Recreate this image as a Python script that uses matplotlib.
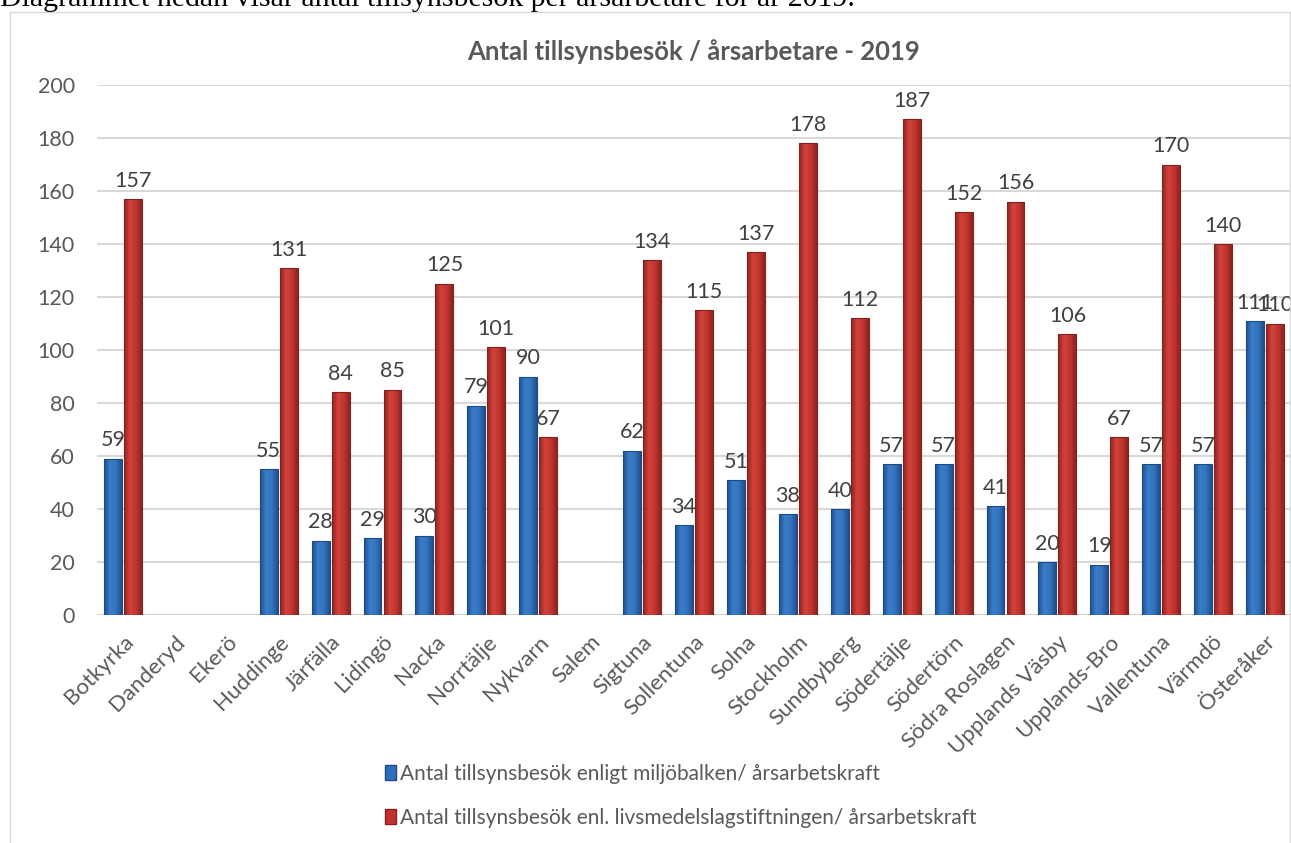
import numpy as np
import matplotlib.pyplot as plt
from matplotlib.patches import Patch, Rectangle
from matplotlib.colors import LinearSegmentedColormap

plt.rcParams['font.family'] = ['Lato', 'DejaVu Sans']

kommuner = ['Botkyrka', 'Danderyd', 'Ekerö', 'Huddinge', 'Järfälla', 'Lidingö',
            'Nacka', 'Norrtälje', 'Nykvarn', 'Salem', 'Sigtuna', 'Sollentuna',
            'Solna', 'Stockholm', 'Sundbyberg', 'Södertälje', 'Södertörn',
            'Södra Roslagen', 'Upplands Väsby', 'Upplands-Bro', 'Vallentuna',
            'Värmdö', 'Österåker']
miljo = [59, None, None, 55, 28, 29, 30, 79, 90, None, 62, 34, 51, 38, 40,
         57, 57, 41, 20, 19, 57, 57, 111]
livs = [157, None, None, 131, 84, 85, 125, 101, 67, None, 134, 115, 137, 178,
        112, 187, 152, 156, 106, 67, 170, 140, 110]
yticks = [0, 20, 40, 60, 80, 100, 120, 140, 160, 180, 200]

lbl_miljo = 'Antal tillsynsbesök enligt miljöbalken/ årsarbetskraft'
lbl_livs = 'Antal tillsynsbesök enl. livsmedelslagstiftningen/ årsarbetskraft'

W, H = 1291, 843
fig = plt.figure(figsize=(W / 100, H / 100), dpi=100)
ax = fig.add_axes([97 / W, 1 - 615 / H, 1194 / W, 530 / H])

grey = '#595959'
blue, blue_e = '#2F6EBA', '#1C4A85'
red, red_e = '#C0312E', '#86201D'
cm_blue = LinearSegmentedColormap.from_list('b', ['#1E4F8E', '#3A7DC9', '#3473BE', '#1F4F8C'])
cm_red = LinearSegmentedColormap.from_list('r', ['#8E2522', '#D2433C', '#C23530', '#8A2421'])
grad = np.linspace(0, 1, 64).reshape(1, -1)


def shaded_bar(xc, h, width, cmap, edge):
    bar = ax.bar(xc, h, width, color='none', edgecolor=edge, lw=0.8, zorder=4)[0]
    im = ax.imshow(grad, cmap=cmap, aspect='auto', zorder=3,
                   extent=[xc - width / 2, xc + width / 2, 0, h])
    im.set_clip_path(bar)


x = np.arange(len(kommuner))
bw = 0.345
gap = 0.02

for i in x:
    if miljo[i] is not None:
        xb = i - bw / 2 - gap
        shaded_bar(xb, miljo[i], bw, cm_blue, blue_e)
        ax.annotate(str(miljo[i]), (xb, miljo[i]), xytext=(0, 6),
                    textcoords='offset points', ha='center', va='bottom',
                    fontsize=15.5, color='#404040')
    if livs[i] is not None:
        xr = i + bw / 2 + gap
        shaded_bar(xr, livs[i], bw, cm_red, red_e)
        ax.annotate(str(livs[i]), (xr, livs[i]), xytext=(0, 6),
                    textcoords='offset points', ha='center', va='bottom',
                    fontsize=15.5, color='#404040')

ax.set_xlim(-0.5, len(kommuner) - 0.5)
ax.set_ylim(0, 200)
ax.set_yticks(yticks)
ax.yaxis.grid(True, color='#D9D9D9', lw=1.5, zorder=0)
ax.set_axisbelow(True)
for s in ax.spines.values():
    s.set_visible(False)
ax.axhline(0, color='#D0D0D0', lw=2, zorder=2)

ax.set_xticks(x)
ax.set_xticklabels(kommuner, rotation=45, ha='right', rotation_mode='anchor',
                   fontsize=16, color=grey)
ax.tick_params(axis='x', length=0, pad=12)
ax.tick_params(axis='y', length=0, pad=16, labelsize=15.5, labelcolor=grey)

ax.set_title('Antal tillsynsbesök / årsarbetare - 2019', fontsize=18.5,
             fontweight='bold', color=grey, pad=18)

handles = [Patch(facecolor=blue, edgecolor=blue_e, label=lbl_miljo),
           Patch(facecolor=red, edgecolor=red_e, label=lbl_livs)]
fig.legend(handles=handles, loc='upper left', bbox_to_anchor=(366 / W, 1 - 745 / H),
           frameon=False, fontsize=15, handlelength=0.55, handleheight=0.7,
           handletextpad=0.2, labelspacing=1.15, labelcolor=grey)

# outer chart frame
fig.patches.append(Rectangle((10 / W, -0.05), 1280 / W, 1.05 - 12 / H,
                             transform=fig.transFigure, fill=False,
                             edgecolor='#D9D9D9', lw=1))

# cut-off document text above the chart
fig.text(0, 1 - 6 / H, 'Diagrammet nedan visar antal tillsynsbesök per årsarbetare för år 2019.',
         fontsize=21.5, family='Liberation Serif', va='baseline', ha='left')

fig.savefig('out.png', dpi=100)
